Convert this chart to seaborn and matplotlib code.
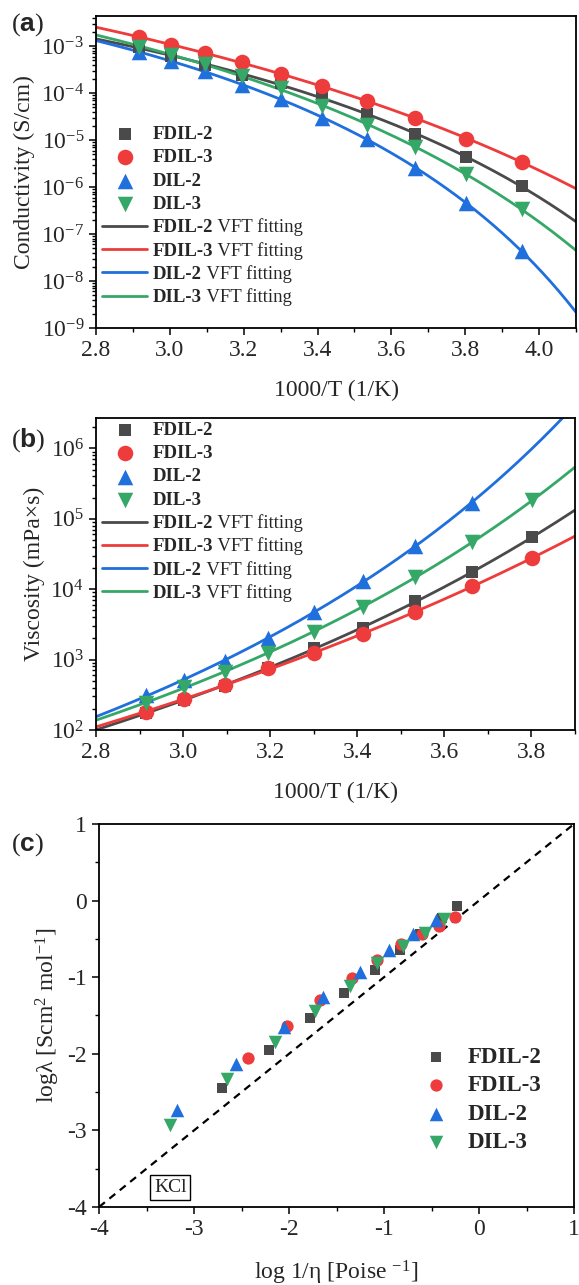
import numpy as np
import pandas as pd
import seaborn as sns
import matplotlib.pyplot as plt
from matplotlib.ticker import MultipleLocator, LogLocator

sns.set_style("ticks")
plt.rcParams['font.family'] = ['Liberation Serif', 'DejaVu Serif']
plt.rcParams['mathtext.fontset'] = 'custom'
plt.rcParams['mathtext.rm'] = 'Liberation Serif'
plt.rcParams['mathtext.it'] = 'Liberation Serif:italic'
plt.rcParams['mathtext.bf'] = 'Liberation Serif:bold'
plt.rcParams['mathtext.sf'] = 'Liberation Sans:bold'
plt.rcParams['axes.unicode_minus'] = False

# --- data ---
names = ['FDIL-2', 'FDIL-3', 'DIL-2', 'DIL-3']
temps = [343, 333, 323, 313, 303, 293, 283, 273, 263, 253]   # K

# (a) conductivity, S/cm
fdil2_cond = [9.5e-4, 6.3e-4, 4.0e-4, 2.4e-4, 1.62e-4, 8.4e-5, 3.6e-5, 1.35e-5, 4.3e-6, 1.05e-6]
fdil3_cond = [1.55e-3, 1.07e-3, 7.2e-4, 4.6e-4, 2.6e-4, 1.4e-4, 6.7e-5, 2.95e-5, 1.07e-5, 3.5e-6]
dil2_cond = [7.4e-4, 4.9e-4, 2.95e-4, 1.51e-4, 7.6e-5, 2.95e-5, 1.05e-5, 2.6e-6, 4.7e-7, 4.3e-8]
dil3_cond = [9.8e-4, 6.6e-4, 4.2e-4, 2.3e-4, 1.26e-4, 5.4e-5, 2.14e-5, 7.2e-6, 1.86e-6, 3.4e-7]

# (b) viscosity, mPa*s
fdil2_visc = [174, 270, 425, 760, 1450, 2800, 6750, 17400, 55000]
fdil3_visc = [182, 275, 435, 760, 1230, 2290, 4700, 11000, 28000]
dil2_visc = [316, 510, 955, 2000, 4800, 12900, 40700, 170000]
dil3_visc = [245, 405, 675, 1230, 2500, 5600, 14800, 46800, 182000]

# (c) Walden plot
fdil2_w_x = [-0.23, -0.39, -0.62, -0.83, -1.10, -1.42, -1.78, -2.21, -2.71]
fdil2_w_y = [-0.07, -0.23, -0.43, -0.64, -0.91, -1.20, -1.53, -1.95, -2.44]
fdil3_w_x = [-0.25, -0.42, -0.60, -0.82, -1.07, -1.34, -1.67, -2.02, -2.43]
fdil3_w_y = [-0.22, -0.33, -0.44, -0.57, -0.77, -1.01, -1.30, -1.64, -2.05]
dil2_w_x = [-0.45, -0.69, -0.95, -1.25, -1.64, -2.05, -2.56, -3.18]
dil2_w_y = [-0.25, -0.435, -0.65, -0.93, -1.255, -1.65, -2.13, -2.73]
dil3_w_x = [-0.37, -0.57, -0.80, -1.07, -1.36, -1.73, -2.15, -2.65, -3.25]
dil3_w_y = [-0.24, -0.42, -0.59, -0.82, -1.115, -1.44, -1.84, -2.335, -2.93]

cond = [fdil2_cond, fdil3_cond, dil2_cond, dil3_cond]
visc = [fdil2_visc, fdil3_visc, dil2_visc, dil3_visc]
walden = [(fdil2_w_x, fdil2_w_y), (fdil3_w_x, fdil3_w_y),
          (dil2_w_x, dil2_w_y), (dil3_w_x, dil3_w_y)]

colors = ['#4a4a4a', '#ee3b3b', '#1f6fdc', '#35a867']
markers = ['s', 'o', '^', 'v']
sizes_ab = [85, 125, 125, 125]
sizes_c = [62, 78, 95, 95]


def vft_fit(x, y):
    # log y = A + B / (T - T0), scan T0 and solve A, B by least squares
    T = 1000 / np.asarray(x)
    ly = np.log10(y)
    best = None
    for T0 in np.arange(50, 232, 0.5):
        X = np.column_stack([np.ones_like(T), 1 / (T - T0)])
        coef = np.linalg.lstsq(X, ly, rcond=None)[0]
        err = np.sum((X @ coef - ly) ** 2)
        if best is None or err < best[0]:
            best = (err, coef[0], coef[1], T0)
    return best[1:]


def vft_curve(params, xs):
    A, B, T0 = params
    return 10 ** (A + B / (1000 / xs - T0))


W, H = 579, 1285
fig = plt.figure(figsize=(W / 100, H / 100), dpi=100)


def box(l, r, t, b):
    return [l / W, 1 - b / H, (r - l) / W, (b - t) / H]


ax_a = fig.add_axes(box(96, 576, 16, 328))
ax_b = fig.add_axes(box(96, 575, 418, 730))
ax_c = fig.add_axes(box(99, 574, 824, 1207))

x_all = 1000 / np.array(temps)

for ax, data, xmax in [(ax_a, cond, 4.1), (ax_b, visc, 3.9)]:
    for i, name in enumerate(names):
        xv = x_all[:len(data[i])]
        sns.scatterplot(x=xv, y=data[i], ax=ax, color=colors[i], marker=markers[i],
                        s=sizes_ab[i], linewidth=0, label=name, zorder=3)
    xs = np.linspace(2.8, xmax, 300)
    for i, name in enumerate(names):
        xv = x_all[:len(data[i])]
        p = vft_fit(xv, data[i])
        df = pd.DataFrame({'x': xs, 'y': vft_curve(p, xs)})
        sns.lineplot(data=df, x='x', y='y', ax=ax, color=colors[i], lw=2,
                     label=name, zorder=2)
    ax.set_yscale('log')
    ax.set_xlim(2.8, xmax)
    ax.xaxis.set_major_locator(MultipleLocator(0.2))
    ax.xaxis.set_minor_locator(MultipleLocator(0.1))
    ax.yaxis.set_major_locator(LogLocator(base=10, numticks=20))
    ax.yaxis.set_minor_locator(LogLocator(base=10, subs=np.arange(2, 10), numticks=20))
    ax.set_xlabel('1000/T (1/K)', fontsize=17, labelpad=14)

ax_a.set_ylim(1e-9, 4.4e-3)
ax_a.set_ylabel('Conductivity (S/cm)', fontsize=17, labelpad=4)
ax_b.set_ylim(100, 2.7e6)
ax_b.set_ylabel('Viscosity (mPa\u00d7s)', fontsize=17, labelpad=4)

# (c) Walden plot
for i, name in enumerate(names):
    sns.scatterplot(x=walden[i][0], y=walden[i][1], ax=ax_c, color=colors[i],
                    marker=markers[i], s=sizes_c[i], linewidth=0, label=name, zorder=3)
ideal = pd.DataFrame({'x': [-4, 1], 'y': [-4, 1]})
sns.lineplot(data=ideal, x='x', y='y', ax=ax_c, color='black', lw=1.6,
             linestyle=(0, (3.4, 2.6)), zorder=2)
ax_c.set_xlim(-4, 1)
ax_c.set_ylim(-4, 1)
ax_c.xaxis.set_major_locator(MultipleLocator(1))
ax_c.xaxis.set_minor_locator(MultipleLocator(0.5))
ax_c.yaxis.set_major_locator(MultipleLocator(1))
ax_c.yaxis.set_minor_locator(MultipleLocator(0.5))
ax_c.set_xlabel('log 1/\u03b7 [Poise $^{-1}$]', fontsize=17, labelpad=14)
ax_c.set_ylabel('log\u03bb [Scm$^2$ mol$^{-1}$]', fontsize=17, labelpad=4)
ax_c.text(-3.25, -3.75, 'KCl', fontsize=14, ha='center', va='center',
          bbox=dict(boxstyle='square,pad=0.2', fc='white', ec='black', lw=1))

for ax in [ax_a, ax_b, ax_c]:
    for sp in ax.spines.values():
        sp.set_linewidth(1.3)
        sp.set_color('black')
    ax.tick_params(which='major', direction='out', length=5, width=1.1,
                   labelsize=17, top=False, right=False, color='black')
    ax.tick_params(which='minor', direction='out', length=3, width=1,
                   top=False, right=False, color='black')

# legends for (a) and (b): bold sample name, plain " VFT fitting" appended
for ax, anchor, xoff in [(ax_a, (0.005, 0.66), 0), (ax_b, (0.005, 1.0), 0)]:
    h, l = ax.get_legend_handles_labels()
    leg = ax.legend(h, l, loc='upper left', bbox_to_anchor=anchor, frameon=False,
                    prop={'family': 'Liberation Serif', 'weight': 'bold', 'size': 13.5},
                    handlelength=2.4, handletextpad=0.3, labelspacing=0.33,
                    borderaxespad=0, borderpad=0.2)
    for t in leg.get_texts()[4:]:
        ax.annotate(' VFT fitting', xy=(1, 0), xycoords=t, ha='left', va='bottom',
                    fontsize=13.5, family='Liberation Serif', zorder=6)

h, l = ax_c.get_legend_handles_labels()
ax_c.legend(h[:4], l[:4], loc='upper left', bbox_to_anchor=(0.675, 0.43), frameon=False,
            prop={'family': 'Liberation Serif', 'weight': 'bold', 'size': 16.5},
            handlelength=1.0, handletextpad=0.9, labelspacing=0.32,
            borderaxespad=0, borderpad=0.2)

for lab, yc in [('a', 25), ('b', 440), ('c', 845)]:
    fig.text(11 / W, 1 - yc / H, '($\\mathsf{%s}$)' % lab, fontsize=19,
             ha='left', va='center')

fig.savefig('out.png', dpi=100)
